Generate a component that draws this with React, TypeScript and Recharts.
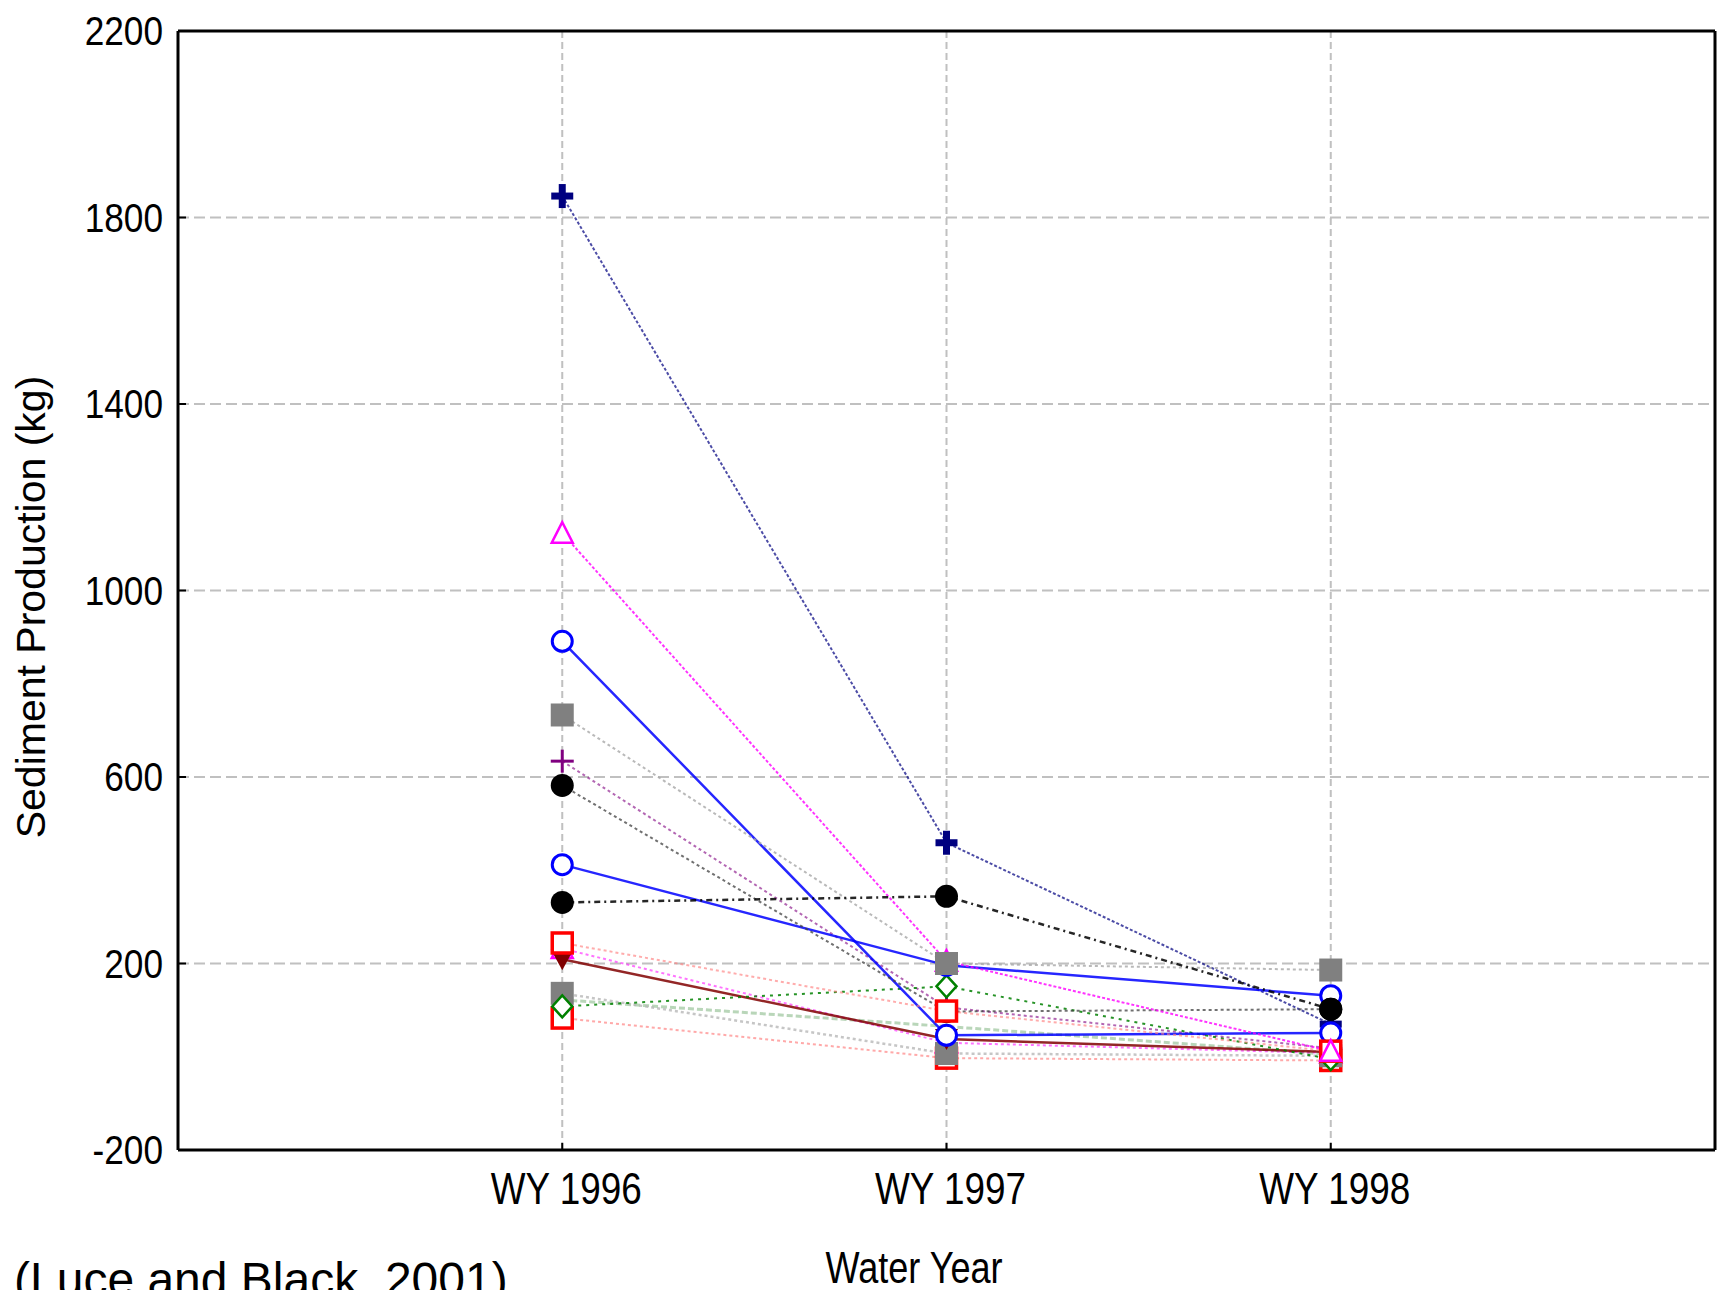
import React from 'react';
import { LineChart, Line, XAxis, YAxis, CartesianGrid, ReferenceLine } from 'recharts';

const categories = ['WY 1996', 'WY 1997', 'WY 1998'];
const yTicks = [-200, 200, 600, 1000, 1400, 1800, 2200];

const navyCross = [1846, 459, 70];
const magentaTriangle = [1123, 205, 12];
const blueCircleA = [891, 46, 51];
const graySquareA = [733, 200, 186];
const purplePlus = [634, 106, 18];
const blackCircleA = [582, 97, 102];
const blueCircleB = [412, 196, 131];
const blackCircleB = [331, 344, 102];
const redSquareA = [244, 98, 12];
const darkRedTriangle = [209, 38, 10];
const magentaTriangleB = [232, 30, 8];
const graySquareB = [136, 7, 2];
const greenDiamond = [108, 151, -5];
const redSquareB = [83, -3, -8];
const lightGreenLine = [122, 65, 5];

const FONT = 'Liberation Sans, Arial, Helvetica, sans-serif';

const toData = (vals: number[]) => vals.map((v, i) => ({ x: i + 1, y: v }));

type MarkerKind =
  | 'boldPlus'
  | 'triangle'
  | 'circleOpen'
  | 'squareFilled'
  | 'plus'
  | 'circleFilled'
  | 'squareOpen'
  | 'diamond'
  | 'triangleDown'
  | 'none';

function Marker({ cx, cy, kind, color }: { cx: number; cy: number; kind: MarkerKind; color: string }) {
  if (cx == null || cy == null) return null;
  switch (kind) {
    case 'boldPlus':
      return (
        <g>
          <rect x={cx - 11} y={cy - 3.5} width={22} height={7} fill={color} />
          <rect x={cx - 3.5} y={cy - 12} width={7} height={24} fill={color} />
        </g>
      );
    case 'triangle':
      return (
        <polygon
          points={`${cx},${cy - 11} ${cx - 10.5},${cy + 9.5} ${cx + 10.5},${cy + 9.5}`}
          fill="#fff"
          stroke={color}
          strokeWidth={2.5}
        />
      );
    case 'circleOpen':
      return <circle cx={cx} cy={cy} r={10} fill="#fff" stroke={color} strokeWidth={3} />;
    case 'squareFilled':
      return <rect x={cx - 11.5} y={cy - 11.5} width={23} height={23} fill={color} />;
    case 'plus':
      return (
        <g stroke={color} strokeWidth={3}>
          <line x1={cx - 11.5} y1={cy} x2={cx + 11.5} y2={cy} />
          <line x1={cx} y1={cy - 11.5} x2={cx} y2={cy + 11.5} />
        </g>
      );
    case 'circleFilled':
      return <circle cx={cx} cy={cy} r={11.5} fill={color} />;
    case 'squareOpen':
      return (
        <rect x={cx - 10} y={cy - 10} width={20} height={20} fill="#fff" stroke={color} strokeWidth={3.5} />
      );
    case 'diamond':
      return (
        <polygon
          points={`${cx},${cy - 11} ${cx + 10},${cy} ${cx},${cy + 11} ${cx - 10},${cy}`}
          fill="#fff"
          stroke={color}
          strokeWidth={2.5}
        />
      );
    case 'triangleDown':
      return (
        <polygon
          points={`${cx - 11.5},${cy - 10} ${cx + 11.5},${cy - 10} ${cx},${cy + 11}`}
          fill={color}
        />
      );
    default:
      return null;
  }
}

type Series = {
  name: string;
  values: number[];
  stroke: string;
  width: number;
  dash?: string;
  opacity: number;
  marker: MarkerKind;
  markerColor: string;
};

// drawing order: first = bottom
const series: Series[] = [
  { name: 'lg', values: lightGreenLine, stroke: '#a8cca8', width: 3, dash: '6 3', opacity: 0.8, marker: 'none', markerColor: '#a8cca8' },
  { name: 'm2', values: magentaTriangleB, stroke: '#ff00ff', width: 2, dash: '3 3', opacity: 0.55, marker: 'triangle', markerColor: '#ff00ff' },
  { name: 'pp', values: purplePlus, stroke: '#800080', width: 2, dash: '3 3', opacity: 0.6, marker: 'plus', markerColor: '#800080' },
  { name: 'nv', values: navyCross, stroke: '#000080', width: 2, dash: '3 2', opacity: 0.7, marker: 'boldPlus', markerColor: '#000080' },
  { name: 'rb', values: redSquareB, stroke: '#ff7070', width: 2, dash: '3 3', opacity: 0.6, marker: 'squareOpen', markerColor: '#ff0000' },
  { name: 'gb', values: graySquareB, stroke: '#b8b8b8', width: 2.5, dash: '3 3', opacity: 0.8, marker: 'squareFilled', markerColor: '#808080' },
  { name: 'dr', values: darkRedTriangle, stroke: '#800000', width: 2.5, opacity: 0.85, marker: 'triangleDown', markerColor: '#800000' },
  { name: 'gd', values: greenDiamond, stroke: '#008000', width: 2, dash: '3 5', opacity: 0.85, marker: 'diamond', markerColor: '#008000' },
  { name: 'ba', values: blueCircleA, stroke: '#0000ff', width: 2.5, opacity: 0.85, marker: 'circleOpen', markerColor: '#0000ff' },
  { name: 'bb', values: blueCircleB, stroke: '#0000ff', width: 2.5, opacity: 0.85, marker: 'circleOpen', markerColor: '#0000ff' },
  { name: 'ka', values: blackCircleA, stroke: '#404040', width: 2, dash: '3 3', opacity: 0.75, marker: 'circleFilled', markerColor: '#000000' },
  { name: 'ra', values: redSquareA, stroke: '#ff8080', width: 2, dash: '3 3', opacity: 0.65, marker: 'squareOpen', markerColor: '#ff0000' },
  { name: 'mt', values: magentaTriangle, stroke: '#ff00ff', width: 2, dash: '3 2', opacity: 0.8, marker: 'triangle', markerColor: '#ff00ff' },
  { name: 'ga', values: graySquareA, stroke: '#a8a8a8', width: 2, dash: '3 3', opacity: 0.8, marker: 'squareFilled', markerColor: '#808080' },
  { name: 'kb', values: blackCircleB, stroke: '#000000', width: 2.5, dash: '6 4 2 4', opacity: 0.85, marker: 'circleFilled', markerColor: '#000000' },
];

const YTick = (props: any) => {
  const { x, y, payload } = props;
  return (
    <text
      transform={`translate(${x},${y}) scale(0.88,1)`}
      textAnchor="end"
      fontSize={40}
      fontFamily={FONT}
      fill="#000"
      dy={14}
    >
      {payload.value}
    </text>
  );
};

const XTick = (props: any) => {
  const { x, y, payload } = props;
  const label = categories[Math.round(payload.value) - 1] ?? '';
  return (
    <text
      transform={`translate(${x + 4},${y}) scale(0.82,1)`}
      textAnchor="middle"
      fontSize={45}
      fontFamily={FONT}
      fill="#000"
      dy={61}
    >
      {label}
    </text>
  );
};

export default function App() {
  return (
    <div style={{ position: 'absolute', left: 0, top: 0, width: 1727, height: 1290, background: '#fff', overflow: 'hidden' }}>
      <LineChart width={1727} height={1290} margin={{ top: 31, right: 12, bottom: 0, left: 0 }}>
        <CartesianGrid horizontal={true} vertical={false} stroke="#c0c0c0" strokeWidth={2} strokeDasharray="11 5" />
        <CartesianGrid horizontal={false} vertical={true} stroke="#c0c0c0" strokeWidth={2} strokeDasharray="7 4" />
        <XAxis
          dataKey="x"
          type="number"
          domain={[0, 4]}
          ticks={[1, 2, 3]}
          height={140}
          axisLine={{ stroke: '#000', strokeWidth: 3 }}
          tickLine={{ stroke: '#000', strokeWidth: 2 }}
          tickSize={-7}
          tickMargin={0}
          tick={<XTick />}
          interval={0}
        />
        <YAxis
          type="number"
          domain={[-200, 2200]}
          ticks={yTicks}
          width={178}
          axisLine={{ stroke: '#000', strokeWidth: 3 }}
          tickLine={{ stroke: '#000', strokeWidth: 2 }}
          tickSize={-8}
          tickMargin={23}
          tick={<YTick />}
          interval={0}
        />
        <ReferenceLine y={2200} stroke="#000" strokeWidth={3} />
        <ReferenceLine x={4} stroke="#000" strokeWidth={3} />
        {series.map((s) => (
          <Line
            key={s.name}
            data={toData(s.values)}
            dataKey="y"
            type="linear"
            stroke={s.stroke}
            strokeWidth={s.width}
            strokeDasharray={s.dash}
            strokeOpacity={s.opacity}
            isAnimationActive={false}
            activeDot={false}
            legendType="none"
            dot={(p: any) => (
              <Marker key={`${s.name}-${p.index}`} cx={p.cx} cy={p.cy} kind={s.marker} color={s.markerColor} />
            )}
          />
        ))}
      </LineChart>
      <svg
        width={1727}
        height={1290}
        style={{ position: 'absolute', left: 0, top: 0, pointerEvents: 'none' }}
      >
        <text
          transform="translate(45,607) rotate(-90)"
          textAnchor="middle"
          fontSize={41}
          fontFamily={FONT}
          fill="#000"
        >
          Sediment Production (kg)
        </text>
        <text
          transform="translate(914,1283) scale(0.82,1)"
          textAnchor="middle"
          fontSize={44}
          fontFamily={FONT}
          fill="#000"
        >
          Water Year
        </text>
        <text x={14} y={1296} fontSize={48} fontFamily={FONT} fill="#000">
          (Luce and Black, 2001)
        </text>
      </svg>
    </div>
  );
}
